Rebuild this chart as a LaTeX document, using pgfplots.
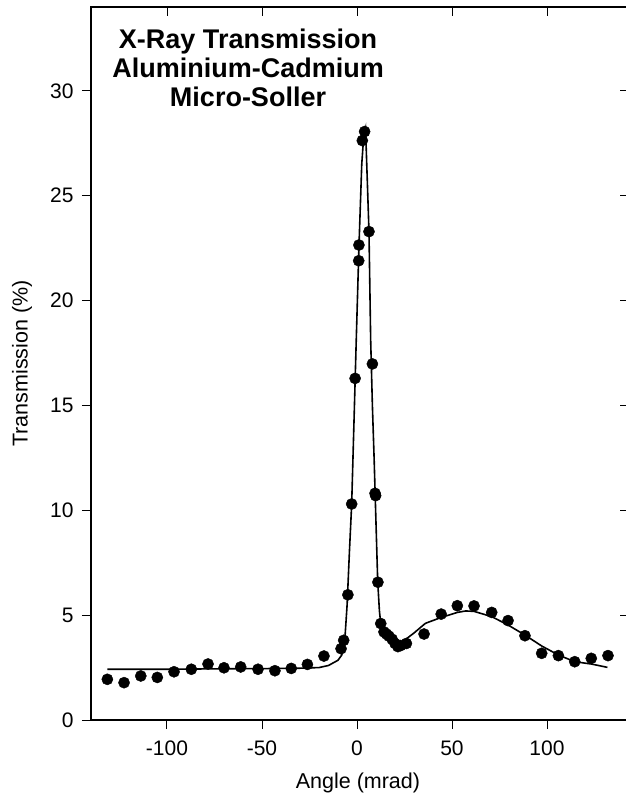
\documentclass[border=0pt]{standalone}
\usepackage{fontspec}
\setmainfont{Liberation Sans}
\usepackage{pgfplots}
\pgfplotsset{compat=1.18}

\pgfplotstableread{
x y
-131.4 1.94
-122.6 1.78
-113.8 2.10
-105.1 2.03
-96.3 2.30
-87.2 2.42
-78.4 2.67
-70.0 2.49
-61.2 2.53
-52.1 2.42
-43.2 2.35
-34.6 2.46
-26.1 2.65
-17.4 3.05
-8.4 3.40
-7.0 3.80
-4.8 5.97
-2.8 10.30
-1.0 16.29
0.9 21.90
1.0 22.65
2.8 27.63
4.0 28.06
6.3 23.29
8.1 16.98
9.5 10.81
9.8 10.70
11.0 6.57
12.5 4.60
14.2 4.20
15.5 4.10
16.8 4.00
18.5 3.85
20.0 3.65
21.5 3.50
23.0 3.55
26.0 3.65
35.3 4.10
44.3 5.05
52.8 5.45
61.6 5.44
70.9 5.13
79.5 4.74
88.4 4.02
97.2 3.18
106.0 3.07
114.6 2.78
123.3 2.94
132.1 3.07
}\measured

\pgfplotstableread{
x y
-131.4 2.42
-100 2.42
-75 2.44
-50 2.45
-30 2.47
-20 2.50
-15 2.60
-10 2.85
-8 3.10
-6.5 3.70
-5.2 5.50
-4.0 8.00
-2.8 10.30
-1.5 14.50
-0.4 18.10
1.0 22.50
2.5 26.50
3.5 27.80
4.5 28.20
5.5 25.50
6.3 23.30
7.2 18.10
8.1 15.00
9.0 12.50
9.8 10.00
10.9 6.60
11.8 5.20
12.5 4.60
14.0 4.10
16.0 3.85
18.0 3.70
20.0 3.60
23.0 3.66
30.0 4.15
36.0 4.61
44.0 4.88
52.8 5.13
57.2 5.20
61.6 5.18
70.9 4.93
79.5 4.53
88.4 4.05
97.2 3.53
106.0 3.10
114.6 2.78
123.3 2.67
131.8 2.51
}\fit

\begin{document}
\begin{tikzpicture}[x=1pt,y=1pt]
\path[use as bounding box] (-91,-84) rectangle (534,720);
\begin{axis}[
  at={(0,0)}, anchor=south west,
  width=537.7pt, height=713pt, scale only axis,
  xmin=-140, xmax=143, ymin=0, ymax=34,
  xtick={-100,-50,0,50,100},
  xticklabels={-100,-50,0,50,100},
  ytick={0,5,10,15,20,25,30},
  yticklabels={0,5,10,15,20,25,30},
  tick align=outside,
  xtick pos=left, ytick pos=left,
  major tick length=9pt,
  tick style={line width=1pt, black},
  axis line style={line width=1.2pt},
  tick label style={font=\fontsize{21}{21}\selectfont},
  xticklabel style={yshift=-8pt},
  yticklabel style={xshift=-5pt},
  label style={font=\fontsize{21.5}{21.5}\selectfont},
  xlabel={Angle (mrad)},
  ylabel={Transmission (\%)},
  xlabel style={at={(axis description cs:0.4965,-0.088)}, anchor=center},
  ylabel style={at={(axis description cs:-0.128,0.5)}, anchor=center, rotate=0},
  clip=false,
]
\addplot[black, line width=1.6pt, no markers] table[x=x,y=y] {\fit};
\addplot[only marks, mark=*, mark size=5.6pt, black] table[x=x,y=y] {\measured};
\node[align=center, font=\fontsize{27}{29}\selectfont\bfseries] at (rel axis cs:0.292,0.915)
  {X-Ray Transmission\\Aluminium-Cadmium\\Micro-Soller};
\end{axis}
\begin{axis}[
  at={(0,0)}, anchor=south west,
  width=537.7pt, height=713pt, scale only axis,
  xmin=-140, xmax=143, ymin=0, ymax=34,
  xtick={-100,-50,0,50,100},
  ytick={0,5,10,15,20,25,30},
  xticklabels={}, yticklabels={},
  tick align=inside,
  xtick pos=right, ytick pos=right,
  major tick length=9pt,
  tick style={line width=1pt, black},
  axis line style={line width=1.2pt},
]
\end{axis}
\end{tikzpicture}
\end{document}
